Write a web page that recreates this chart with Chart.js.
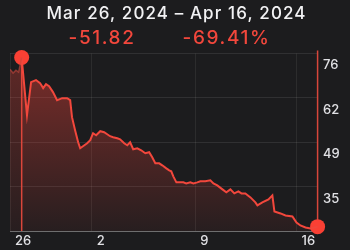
<!DOCTYPE html>
<html>
<head>
<meta charset="utf-8">
<script src="https://cdn.jsdelivr.net/npm/chart.js@4.4.1/dist/chart.umd.min.js"></script>
<style>
  html, body { margin: 0; padding: 0; background: #1c1c1e; }
</style>
</head>
<body>
<canvas id="priceChart" width="350" height="250"></canvas>
<script>
const rangeTitle = 'Mar 26, 2024 – Apr 16, 2024';
const changeValue = '-51.82';
const changePercent = '-69.41%';

// x is trading days counted from the Mar 26 session
const preDays = [0, 0.15, 0.29, 0.42, 0.57];
const prePrices = [71.1, 69.9, 70.8, 70.2, 74.66];

const days = [
  0.57, 0.83, 1.03, 1.27, 1.47, 1.62, 1.76, 1.91, 2.10, 2.30, 2.55, 2.79, 2.94,
  3.03, 3.18, 3.33, 3.43, 3.77, 3.92, 4.06, 4.21, 4.41, 4.60, 4.75, 4.89, 5.04,
  5.24, 5.38, 5.58, 5.73, 5.87, 6.02, 6.22, 6.41, 6.61, 6.80, 6.95, 7.10, 7.29,
  7.44, 7.64, 7.78, 7.88, 7.98, 8.13, 8.32, 8.47, 8.61, 8.81, 8.96, 9.15, 9.30,
  9.54, 9.79, 9.94, 10.13, 10.38, 10.57, 10.77, 10.96, 11.16, 11.31, 11.50, 11.75,
  11.99, 12.09, 12.33, 12.63, 12.82, 12.92, 13.22, 13.46, 13.80, 14.00, 14.19,
  14.44, 14.68, 15.03
];
const prices = [
  74.66, 57.0, 67.14, 67.76, 66.83, 65.3, 66.53, 65.91, 64.07, 61.61, 62.22, 62.22, 61.61,
  56.39, 52.39, 48.7, 46.86, 48.4, 49.32, 51.47, 50.85, 52.08, 51.78, 51.16, 50.55, 50.24,
  49.93, 49.62, 48.4, 47.78, 48.7, 46.55, 46.86, 46.24, 45.32, 45.63, 44.09, 42.25, 42.25,
  41.63, 40.71, 40.1, 39.79, 38.25, 36.41, 36.41, 36.41, 36.1, 36.41, 36.1, 36.41, 36.72,
  36.72, 37.02, 36.1, 35.49, 34.26, 33.34, 34.26, 33.03, 33.64, 33.03, 33.03, 31.8,
  30.26, 29.34, 30.26, 31.19, 32.42, 27.5, 26.88, 26.27, 25.96, 24.12, 23.2,
  22.58, 22.27, 22.84
];

const xTicks = [0, 4, 9.05, 14];
const xTickLabels = ['26', '2', '9', '16'];
const yTicks = [21.5, 35.1, 48.7, 62.3, 75.9];
const yTickLabels = ['', '35', '49', '62', '76'];

const red = '#f2473c';
const tickFont = { family: 'Inter', size: 13, weight: '500' };

function areaFill(context, topAlpha, bottomAlpha) {
  const area = context.chart.chartArea;
  if (!area) return 'rgba(0,0,0,0)';
  const g = context.chart.ctx.createLinearGradient(0, area.top, 0, area.bottom);
  g.addColorStop(0, 'rgba(255,69,58,' + topAlpha + ')');
  g.addColorStop(1, 'rgba(255,69,58,' + bottomAlpha + ')');
  return g;
}

const headerAndMarkers = {
  id: 'headerAndMarkers',
  beforeDraw(chart) {
    const c = chart.ctx;
    c.save();
    c.fillStyle = '#1c1c1e';
    c.fillRect(0, 0, chart.width, chart.height);
    c.restore();
  },
  beforeDatasetDraw(chart, args) {
    if (args.index !== 2) return;
    const x = chart.scales.x, y = chart.scales.y, area = chart.chartArea;
    const c = chart.ctx;
    const sx = x.getPixelForValue(days[0]);
    const ex = x.getPixelForValue(days[days.length - 1]);
    c.save();
    c.strokeStyle = '#d8463b';
    c.lineWidth = 1.5;
    c.beginPath();
    c.moveTo(sx, y.getPixelForValue(prices[0]));
    c.lineTo(sx, area.bottom);
    c.moveTo(ex, area.top - 3);
    c.lineTo(ex, y.getPixelForValue(prices[prices.length - 1]));
    c.stroke();
    c.restore();
  },
  afterDraw(chart) {
    const c = chart.ctx;
    c.save();
    c.textAlign = 'center';
    c.textBaseline = 'alphabetic';
    c.fillStyle = '#f2f2f4';
    c.font = '500 17px Inter';
    c.letterSpacing = '1.1px';
    c.fillText(rangeTitle, 176.5, 18.5);
    c.fillStyle = red;
    c.font = '500 19px Inter';
    c.letterSpacing = '1.6px';
    c.fillText(changeValue, 102, 43.5);
    c.fillText(changePercent, 226.5, 43.5);
    c.restore();
  }
};

new Chart(document.getElementById('priceChart').getContext('2d'), {
  type: 'line',
  data: {
    datasets: [
      {
        data: preDays.map((d, i) => ({ x: d, y: prePrices[i] })),
        borderColor: 'rgba(200,70,60,0.6)',
        borderWidth: 1.5,
        pointRadius: 0,
        fill: 'start',
        backgroundColor: ctx => areaFill(ctx, 0.3, 0.05)
      },
      {
        data: days.map((d, i) => ({ x: d, y: prices[i] })),
        borderColor: red,
        borderWidth: 2,
        pointRadius: 0,
        tension: 0,
        fill: 'start',
        backgroundColor: ctx => areaFill(ctx, 0.43, 0.05)
      },
      {
        data: [
          { x: days[0], y: prices[0] },
          { x: days[days.length - 1], y: prices[prices.length - 1] }
        ],
        showLine: false,
        pointRadius: 7.5,
        pointBackgroundColor: '#fa4034',
        pointBorderWidth: 0,
        clip: false
      }
    ]
  },
  options: {
    responsive: false,
    devicePixelRatio: 1,
    animation: false,
    events: [],
    layout: { padding: { top: 53.5, left: 10, right: 0, bottom: 0 } },
    plugins: {
      legend: { display: false },
      tooltip: { enabled: false }
    },
    scales: {
      x: {
        type: 'linear',
        min: 0,
        max: 15.05,
        afterBuildTicks: axis => { axis.ticks = xTicks.map(v => ({ value: v })); },
        afterFit: axis => { axis.height = 19; },
        grid: { color: 'rgba(255,255,255,0.07)', drawTicks: false },
        border: { display: true, color: 'rgba(255,255,255,0.3)', width: 1 },
        ticks: {
          align: 'start',
          labelOffset: 5,
          padding: 2,
          color: '#e0e0e4',
          font: tickFont,
          maxRotation: 0,
          callback: (v, i) => xTickLabels[i]
        }
      },
      y: {
        position: 'right',
        min: yTicks[0],
        max: yTicks[yTicks.length - 1],
        afterBuildTicks: axis => { axis.ticks = yTicks.map(v => ({ value: v })); },
        afterFit: axis => { axis.width = 32; },
        grid: { color: 'rgba(255,255,255,0.09)', drawTicks: false },
        border: { display: false },
        ticks: {
          color: '#e0e0e4',
          font: tickFont,
          padding: 5,
          labelOffset: 12,
          callback: (v, i) => yTickLabels[i]
        }
      }
    }
  },
  plugins: [headerAndMarkers]
});
</script>
</body>
</html>
